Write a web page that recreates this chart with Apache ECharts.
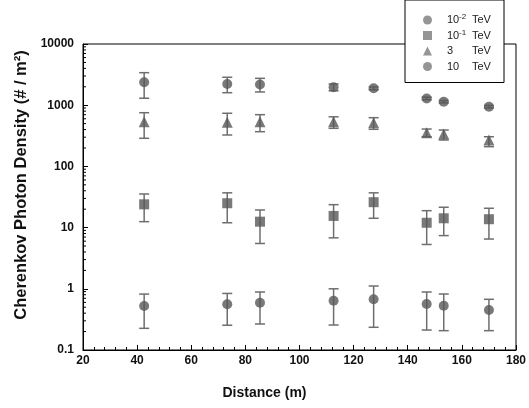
<!DOCTYPE html>
<html>
<head>
<meta charset="utf-8">
<script src="https://cdn.jsdelivr.net/npm/echarts@6/dist/echarts.min.js"></script>
<style>html,body{margin:0;padding:0;background:#fff}#c{width:529px;height:408px}</style>
</head>
<body>
<div id="c"></div>
<script>
const distances = [42.6, 73.3, 85.4, 112.6, 127.4, 147, 153.3, 170];

const e10 = [2370, 2220, 2180, 1960, 1890, 1290, 1140, 946];
const e10Hi = [3400, 2860, 2750, 2220, 1990, 1350, 1190, 990];
const e10Lo = [1300, 1600, 1645, 1720, 1790, 1230, 1090, 900];

const e3 = [537, 525, 537, 537, 518, 356, 338, 270];
const e3Hi = [754, 738, 700, 646, 625, 408, 393, 305];
const e3Lo = [288, 326, 369, 419, 404, 305, 270, 210];

const e01 = [24, 25, 12.5, 15.5, 26, 12, 14.2, 13.7];
const e01Hi = [35.4, 37, 19.4, 23.7, 37, 18.9, 21.5, 20.7];
const e01Lo = [12.5, 12, 5.5, 6.8, 14.2, 5.3, 7.4, 6.5];

const e001 = [0.524, 0.558, 0.593, 0.64, 0.674, 0.565, 0.53, 0.45];
const e001Hi = [0.82, 0.84, 0.887, 1.0, 1.11, 0.887, 0.822, 0.674];
const e001Lo = [0.226, 0.254, 0.266, 0.256, 0.235, 0.212, 0.207, 0.207];

const seriesNames = ['10^-2 TeV', '10^-1 TeV', '3 TeV', '10 TeV'];
const legendNum = ['10', '10', '3', '10'];
const legendSup = ['-2', '-1', ' ', ' '];

const xTitle = 'Distance (m)';
const yTitle = 'Cherenkov Photon Density (# / m\u00B2)';

const minorDecades = [0.1, 1, 10, 100, 1000];
const minorMults = [2, 3, 4, 5, 6, 7, 8, 9];

const FONT = '"Liberation Sans", Arial, sans-serif';

function pts(ys) { return distances.map((d, i) => [d, ys[i]]); }
function errs(lo, hi) { return distances.map((d, i) => [d, lo[i], hi[i]]); }

function errRender(params, api) {
  const x = api.value(0);
  const p1 = api.coord([x, api.value(2)]);
  const p2 = api.coord([x, api.value(1)]);
  const st = { stroke: '#6e6e6e', lineWidth: 1.5 };
  return {
    type: 'group',
    children: [
      { type: 'line', shape: { x1: p1[0], y1: p1[1], x2: p2[0], y2: p2[1] }, style: st },
      { type: 'line', shape: { x1: p1[0] - 5, y1: p1[1], x2: p1[0] + 5, y2: p1[1] }, style: st },
      { type: 'line', shape: { x1: p2[0] - 5, y1: p2[1], x2: p2[0] + 5, y2: p2[1] }, style: st }
    ]
  };
}

const minorData = [];
minorDecades.forEach(d => minorMults.forEach(m => minorData.push([20, +(d * m).toPrecision(3)])));

const chart = echarts.init(document.getElementById('c'), null, { renderer: 'canvas' });

const errSets = [[e001Lo, e001Hi], [e01Lo, e01Hi], [e3Lo, e3Hi], [e10Lo, e10Hi]];
const valSets = [e001, e01, e3, e10];
const symbols = ['circle', 'rect', 'triangle', 'circle'];
const sizes = [10, 10, 11, 10];

const series = [];
errSets.forEach((s, i) => {
  series.push({
    type: 'custom', name: 'err' + i, renderItem: errRender, data: errs(s[0], s[1]),
    encode: { x: 0, y: [1, 2] }, z: 2, silent: true
  });
});
valSets.forEach((v, i) => {
  series.push({
    type: 'scatter', name: seriesNames[i], data: pts(v), symbol: symbols[i], symbolSize: sizes[i],
    itemStyle: { color: '#585858' }, z: 3
  });
});
series.push({
  type: 'custom', name: 'minor', silent: true, z: 4,
  renderItem: function (params, api) {
    const p = api.coord([api.value(0), api.value(1)]);
    return { type: 'line', shape: { x1: p[0], y1: p[1], x2: p[0] + 3, y2: p[1] }, style: { stroke: '#000', lineWidth: 1 } };
  },
  data: minorData, encode: { x: 0, y: 1 }
});

chart.setOption({
  backgroundColor: '#fff',
  animation: false,
  grid: { left: 83, right: 9, top: 44, bottom: 58, show: true, borderColor: '#000', borderWidth: 1, containLabel: false },
  xAxis: {
    type: 'value', min: 20, max: 180, interval: 20,
    axisLine: { lineStyle: { color: '#000', width: 1 } },
    axisTick: { inside: true, length: 5, lineStyle: { color: '#000' } },
    minorTick: { show: true, splitNumber: 5, length: 3, lineStyle: { color: '#000' } },
    splitLine: { show: false },
    axisLabel: { color: '#111', fontFamily: FONT, fontWeight: 'bold', fontSize: 12, margin: 5 }
  },
  yAxis: {
    type: 'log', logBase: 10, min: 0.1, max: 10000,
    axisLine: { lineStyle: { color: '#000', width: 1 } },
    axisTick: { inside: true, length: 5, lineStyle: { color: '#000' } },
    minorTick: { show: false },
    splitLine: { show: false },
    axisLabel: {
      color: '#111', fontFamily: FONT, fontWeight: 'bold', fontSize: 12, margin: 9,
      formatter: function (v) { return String(+v.toPrecision(3)); }
    }
  },
  legend: {
    orient: 'vertical', left: 405, top: 0,
    padding: [13, 11, 9, 18], itemGap: 1.5, itemWidth: 9, itemHeight: 9,
    backgroundColor: '#fff', borderColor: '#000', borderWidth: 1, borderRadius: 0,
    data: seriesNames.map((n, i) => ({ name: n, icon: symbols[i], itemStyle: { color: '#7a7a7a' } })),
    formatter: function (name) {
      const i = seriesNames.indexOf(name);
      return '{g| }{n|' + legendNum[i] + '}{s|' + legendSup[i] + '}{t|TeV}';
    },
    textStyle: {
      fontFamily: FONT, fontSize: 11, color: '#222', lineHeight: 14,
      rich: {
        g: { width: 10, fontSize: 11, lineHeight: 14 },
        n: { width: 12, fontSize: 11, lineHeight: 14, fontFamily: FONT, color: '#222' },
        s: { width: 13, fontSize: 8, lineHeight: 14, verticalAlign: 'top', fontFamily: FONT, color: '#222', padding: [0, 0, 5, 0] },
        t: { width: 21, fontSize: 11, lineHeight: 14, fontFamily: FONT, color: '#222' }
      }
    }
  },
  graphic: [
    { type: 'text', left: 'center', x: 0, top: 386, style: { text: xTitle, font: 'bold 14px ' + FONT, fill: '#111' } },
    { type: 'text', x: 21, y: 185, rotation: Math.PI / 2, style: { text: yTitle, font: 'bold 16.5px ' + FONT, fill: '#111', textAlign: 'center', textVerticalAlign: 'middle' } }
  ],
  series: series
});
</script>
</body>
</html>
